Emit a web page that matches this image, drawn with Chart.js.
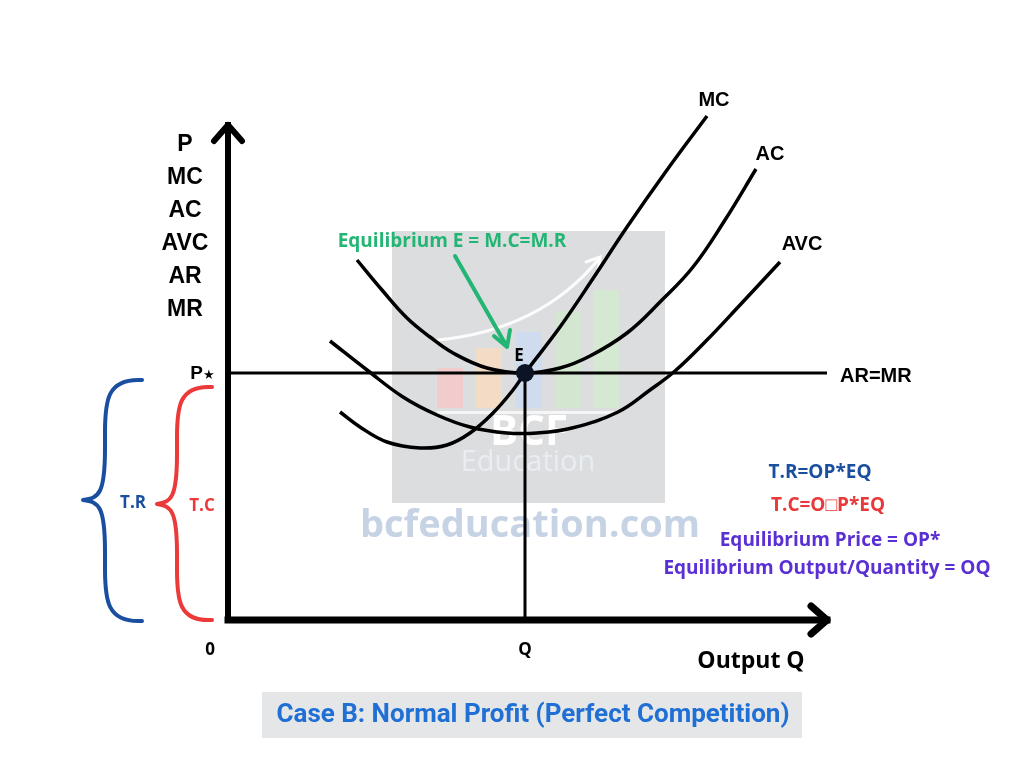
<!DOCTYPE html>
<html><head><meta charset="utf-8">
<script src="https://cdn.jsdelivr.net/npm/chart.js@4.4.0/dist/chart.umd.min.js"></script>
<style>html,body{margin:0;padding:0;background:#fff;}canvas{display:block;}</style>
</head><body>
<canvas id="c" width="1024" height="768"></canvas>
<script>
// ---- Data (x = output Q, y = price / cost) ----
const mcQ  = [11.2, 13.2, 15.9, 19.2, 21.9, 24.2, 26.5, 28.5, 29.7, 33.2, 36.6, 39.9, 43.9, 47.9];
const mcP  = [20.8, 19.3, 17.8, 17.2, 17.5, 18.7, 20.7, 23.0, 24.7, 29.3, 34.3, 39.3, 45.0, 50.4];
const acQ  = [12.9, 15.4, 17.9, 20.2, 22.5, 25.9, 29.7, 33.2, 36.2, 39.9, 43.2, 46.5, 49.7, 52.8];
const acP  = [36.0, 33.0, 30.2, 28.3, 26.7, 25.2, 24.7, 25.2, 26.4, 28.7, 31.8, 35.3, 40.0, 45.1];
const avcQ = [10.2, 13.9, 17.5, 20.9, 24.2, 27.9, 30.9, 34.4, 39.0, 42.2, 44.7, 47.7, 51.2, 55.2];
const avcP = [27.9, 25.0, 22.3, 20.5, 19.3, 18.7, 18.7, 19.2, 20.8, 23.0, 24.9, 27.8, 31.5, 35.8];
const eqQ = 29.7;        // Q
const eqP = 24.7;        // P*
const axisMaxQ = 59.9;
const axisMaxP = 49.5;
const yAxisLabels = ['P', 'MC', 'AC', 'AVC', 'AR', 'MR'];
const curveNames = ['MC', 'AC', 'AVC', 'AR=MR'];
const formulaTexts = ['T.R=OP*EQ', 'T.C=O\u25A1P*EQ', 'Equilibrium Price = OP*', 'Equilibrium Output/Quantity = OQ'];
const eqNote = 'Equilibrium E = M.C=M.R';
const titleText = 'Case B: Normal Profit (Perfect Competition)';

const zip = (xs, ys) => xs.map((x, i) => ({x: x, y: ys[i]}));

function line(data, w, extra) {
  return Object.assign({data: data, showLine: true, borderColor: '#000', borderWidth: w,
    pointRadius: 0, fill: false, tension: 0}, extra || {});
}

const decor = {
  id: 'decor',
  beforeDatasetsDraw(chart) {
    const c = chart.ctx;
    c.save();
    // watermark block
    c.fillStyle = '#dcdddf';
    c.fillRect(392, 231, 273, 272);
    const bars = [[437, 368, '#f2cccc'], [476, 348, '#f3dcc6'], [516, 332, '#cfdcef'], [555, 311, '#d3e6d0'], [593, 290, '#d5e8d2']];
    bars.forEach(b => { c.fillStyle = b[2]; c.fillRect(b[0], b[1], 26, 408 - b[1]); });
    c.strokeStyle = 'rgba(255,255,255,0.9)'; c.lineWidth = 3; c.lineCap = 'round';
    c.beginPath(); c.moveTo(438, 340); c.quadraticCurveTo(540, 330, 598, 260); c.stroke();
    c.beginPath(); c.moveTo(586, 262); c.lineTo(600, 257); c.lineTo(598, 272); c.stroke();
    c.fillStyle = '#f6f6f6'; c.fillRect(437, 411, 182, 3);
    c.textAlign = 'center'; c.textBaseline = 'middle';
    c.fillStyle = '#ffffff'; c.font = 'bold 42px "Open Sans"';
    c.fillText('BCF', 529, 433);
    c.fillStyle = '#e8edf4'; c.font = '29px "Open Sans"';
    c.fillText('Education', 528, 463);
    c.fillStyle = '#c6d3e5'; c.font = 'bold 38px "Open Sans"';
    c.fillText('bcfeducation.com', 530, 526);
    c.restore();
  },
  afterDatasetsDraw(chart) {
    const c = chart.ctx, xs = chart.scales.x, ys = chart.scales.y;
    const X = v => xs.getPixelForValue(v), Y = v => ys.getPixelForValue(v);
    c.save();
    c.lineCap = 'round'; c.lineJoin = 'round';
    // arrow heads of the axes
    c.strokeStyle = '#000'; c.lineWidth = 6;
    const ox = X(0), oy = Y(0), ty = Y(axisMaxP), tx = X(axisMaxQ);
    c.beginPath(); c.moveTo(ox - 14, ty + 16); c.lineTo(ox, ty); c.lineTo(ox + 14, ty + 16); c.stroke();
    c.lineWidth = 7;
    c.beginPath(); c.moveTo(tx - 16, oy - 14); c.lineTo(tx, oy); c.lineTo(tx - 16, oy + 14); c.stroke();

    // braces
    function brace(x1, xs_, tip, top, mid, bot, h, col) {
      c.strokeStyle = col; c.lineWidth = 4;
      c.beginPath();
      c.moveTo(x1, top);
      c.bezierCurveTo(xs_ + 2, top - 2, xs_, top + h * 0.4, xs_, top + h);
      c.lineTo(xs_, mid - h);
      c.bezierCurveTo(xs_, mid - 6, xs_ - 6, mid - 2, tip, mid);
      c.bezierCurveTo(xs_ - 6, mid + 2, xs_, mid + 6, xs_, mid + h);
      c.lineTo(xs_, bot - h);
      c.bezierCurveTo(xs_, bot - h * 0.4, xs_ + 2, bot + 2, x1, bot);
      c.stroke();
    }
    brace(142, 105, 83, 380, 500, 621, 52, '#1a4f9f');
    brace(212, 177, 157, 387, 504, 620, 50, '#ec3a3a');

    // green arrow
    c.strokeStyle = '#22b573'; c.lineWidth = 4;
    c.beginPath(); c.moveTo(455, 256); c.lineTo(506, 345); c.stroke();
    c.beginPath(); c.moveTo(494, 336); c.lineTo(507, 347); c.lineTo(510, 330); c.stroke();

    c.textAlign = 'center'; c.textBaseline = 'middle';
    // y-axis title stack
    c.fillStyle = '#000'; c.font = 'bold 23px "Liberation Sans"';
    yAxisLabels.forEach((t, i) => c.fillText(t, 185, 145 + i * 33));
    // curve names
    c.font = 'bold 20px "Liberation Sans"';
    c.fillText(curveNames[0], 714, 100);
    c.fillText(curveNames[1], 770, 154);
    c.fillText(curveNames[2], 802, 244);
    c.textAlign = 'left';
    c.fillText(curveNames[3], 840, 376);
    // P*
    c.textAlign = 'right';
    c.font = 'bold 19px "Liberation Sans"';
    c.fillText('P', 203, Y(eqP) + 1);
    c.font = '13px "DejaVu Sans"';
    c.textAlign = 'left';
    c.fillText('\u2605', 203, Y(eqP) + 3);
    // E, 0, Q
    c.textAlign = 'center';
    c.font = 'bold 17px "Open Sans"';
    c.fillText('E', X(eqQ) - 6, Y(eqP) - 17);
    c.fillText('0', 210, 650);
    c.fillText('Q', X(eqQ), 650);
    c.font = 'bold 23px "Open Sans"';
    c.fillText('Output Q', 751, 661);
    // brace labels
    c.font = 'bold 17px "Open Sans"';
    c.fillStyle = '#1a4f9f'; c.fillText('T.R', 133, 503);
    c.fillStyle = '#ec3a3a'; c.fillText('T.C', 202, 506);
    // equilibrium note
    c.font = 'bold 19px "Open Sans"';
    c.fillStyle = '#22b573'; c.fillText(eqNote, 452, 242);
    // formulas
    c.fillStyle = '#1a4f9f'; c.fillText(formulaTexts[0], 820, 473);
    c.fillStyle = '#e8383a'; c.fillText(formulaTexts[1], 828, 506);
    c.fillStyle = '#5a2fd3'; c.fillText(formulaTexts[2], 830, 541);
    c.fillText(formulaTexts[3], 827, 569);
    // title box
    c.fillStyle = '#e4e6e8'; c.fillRect(262, 692, 540, 46);
    c.fillStyle = '#1f6fd5'; c.font = 'bold 26px Roboto';
    c.fillText(titleText, 533, 715);
    c.restore();
  }
};

new Chart(document.getElementById('c'), {
  type: 'scatter',
  data: {
    datasets: [
      {data: [{x: eqQ, y: eqP}], pointRadius: 9, pointBackgroundColor: '#0b1324',
       pointBorderWidth: 0, showLine: false},
      line(zip(mcQ, mcP), 3.5, {tension: 0.4}),
      line(zip(acQ, acP), 3.5, {tension: 0.4}),
      line(zip(avcQ, avcP), 3.5, {tension: 0.4}),
      line([{x: 0, y: eqP}, {x: axisMaxQ, y: eqP}], 3),
      line([{x: eqQ, y: 0}, {x: eqQ, y: eqP}], 3),
      line([{x: 0, y: 0}, {x: axisMaxQ, y: 0}], 7, {borderCapStyle: 'square'}),
      line([{x: 0, y: 0}, {x: 0, y: axisMaxP}], 6, {borderCapStyle: 'square'})
    ]
  },
  options: {
    responsive: false, animation: false, devicePixelRatio: 1, events: [],
    layout: {padding: 0, autoPadding: false},
    plugins: {legend: {display: false}, tooltip: {enabled: false}},
    scales: {
      x: {type: 'linear', min: -22.8, max: 79.6, display: false},
      y: {type: 'linear', min: -14.8, max: 62.0, display: false}
    }
  },
  plugins: [decor]
});
</script>
</body></html>
